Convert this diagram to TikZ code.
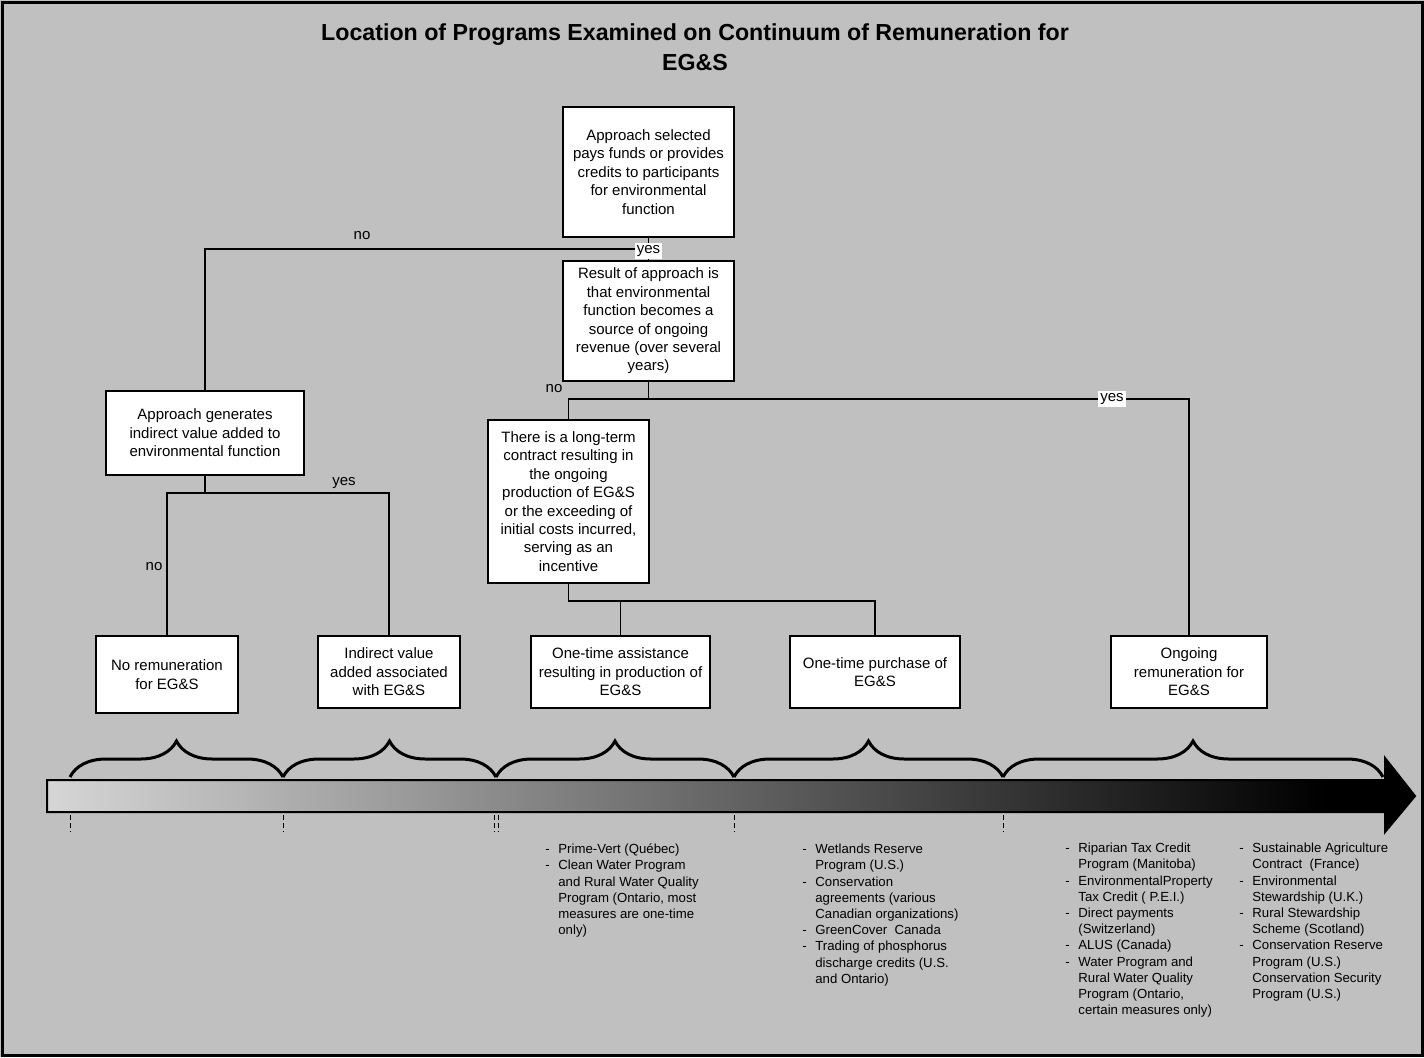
\documentclass[tikz,border=0pt]{standalone}
\usepackage{fontspec}
\setmainfont{Liberation Sans}
\usepackage{tikz}
\usetikzlibrary{decorations.pathreplacing}
\definecolor{panel}{RGB}{192,192,192}
\definecolor{barlight}{RGB}{214,214,214}
\definecolor{barmid}{RGB}{125,125,125}
\newcommand{\boxfont}{\fontsize{7.5}{9.2}\selectfont}
\newcommand{\listfont}{\fontsize{6.6}{8.1}\selectfont}
\newcommand{\EGS}{EG\&S}

\begin{document}
\begin{tikzpicture}[x=0.5pt,y=-0.5pt]
\tikzstyle{plain}=[draw, line width=0.75pt, fill=white, inner sep=0pt, align=center, font=\boxfont]
\tikzstyle{lbl}=[inner sep=1pt, font=\boxfont]
\tikzstyle{wire}=[line width=0.7pt]
\tikzstyle{proglist}=[anchor=north west, inner sep=0pt, font=\listfont]
\tikzstyle{scalemark}=[line width=0.5pt, dash pattern=on 2.5pt off 1.5pt]

\useasboundingbox (0,0) rectangle (1424,1057);
\fill[panel] (0,0) rectangle (1424,1057);
\draw[line width=1.5pt] (2,2) rectangle (1422,1055);

\draw node at (695,47) [font=\fontsize{11.6}{15}\selectfont\bfseries, align=center] (Title) {Location of Programs Examined on Continuum of Remuneration for\\ \EGS};

\draw node [plain, minimum width=85.5pt, minimum height=65pt] at (648.5,172) (Sel) {Approach selected\\ pays funds or provides\\ credits to participants\\ for environmental\\ function};
\draw node [plain, minimum width=85.5pt, minimum height=60pt] at (648.5,321) (Rev) {Result of approach is\\ that environmental\\ function becomes a\\ source of ongoing\\ revenue (over several\\ years)};
\draw node [plain, minimum width=99pt, minimum height=42pt] at (205,433) (Indirect) {Approach generates\\ indirect value added to\\ environmental function};
\draw node [plain, minimum width=71pt, minimum height=38.5pt] at (167,674.5) (NoRem) {No remuneration\\ for \EGS};
\draw node [plain, minimum width=71pt, minimum height=36pt] at (389,672) (IndVal) {Indirect value\\ added associated\\ with \EGS};
\draw node [plain, minimum width=80.5pt, minimum height=81.5pt] at (568.5,501.5) (Contract) {There is a long-term\\ contract resulting in\\ the ongoing\\ production of \EGS\\ or the exceeding of\\ initial costs incurred,\\ serving as an\\ incentive};
\draw node [plain, minimum width=89.5pt, minimum height=36pt] at (620.5,672) (OneAssist) {One-time assistance\\ resulting in production of\\ \EGS};
\draw node [plain, minimum width=85pt, minimum height=36pt] at (875,672) (OnePurch) {One-time purchase of\\ \EGS};
\draw node [plain, minimum width=78pt, minimum height=36pt] at (1189,672) (Ongoing) {Ongoing\\ remuneration for\\ \EGS};

\coordinate (SelJ) at (648.5,249);
\coordinate (IndJ) at (205,493);
\coordinate (RevJ) at (648.5,399);
\coordinate (ConJ) at (620.5,601);

\draw[wire] (Sel.south) -- (SelJ) -| (Indirect.north);
\draw[wire] (SelJ) -- (Rev.north);
\draw[wire] (Indirect.south) -- (IndJ);
\draw[wire] (NoRem.north) |- (IndJ) -| (IndVal.north);
\draw[wire] (Rev.south) -- (RevJ);
\draw[wire] (Contract.north) |- (RevJ) -| (Ongoing.north);
\draw[wire] (Contract.south) |- (ConJ) -| (OnePurch.north);
\draw[wire] (ConJ) -- (OneAssist.north);

\draw node [lbl] at (362,236) (NoA) {no};
\draw node [lbl, fill=white] at (648.5,251) (YesA) {yes};
\draw node [lbl] at (344,483) (YesB) {yes};
\draw node [lbl] at (154,567) (NoB) {no};
\draw node [lbl] at (554,389) (NoC) {no};
\draw node [lbl, fill=white] at (1112,399) (YesC) {yes};

\shade[left color=barlight, middle color=barmid, right color=black] (47,780) rectangle (1325,812);
\fill[black] (1325,780) rectangle (1385,812);
\fill[black] (1385,758) -- (1415,796) -- (1385,832) -- cycle;
\draw[line width=1pt] (1385,780) -- (47,780) -- (47,812) -- (1385,812) -- (1385,832) -- (1415,796) -- (1385,758) -- cycle;

\foreach \a/\b in {70/283,283/496,496/734,734/1003,1003/1383}
  \draw[line width=1.5pt, decorate, decoration={brace, amplitude=18pt}] (\a,777) -- (\b,777);

\foreach \x in {70,283,494,498,734,1003}
  \draw[scalemark] (\x,815) -- (\x,832);

\draw node [proglist] at (545,842) (ListA) {\begin{tabular}{@{}l@{\hspace{4.3pt}}l@{}}
- & Prime-Vert (Québec)\\
- & Clean Water Program\\
  & and Rural Water Quality\\
  & Program (Ontario, most\\
  & measures are one-time\\
  & only)
\end{tabular}};
\draw node [proglist] at (802,842) (ListB) {\begin{tabular}{@{}l@{\hspace{4.3pt}}l@{}}
- & Wetlands Reserve\\
  & Program (U.S.)\\
- & Conservation\\
  & agreements (various\\
  & Canadian organizations)\\
- & GreenCover\ \ Canada\\
- & Trading of phosphorus\\
  & discharge credits (U.S.\\
  & and Ontario)
\end{tabular}};
\draw node [proglist] at (1065,841) (ListC) {\begin{tabular}{@{}l@{\hspace{4.3pt}}l@{}}
- & Riparian Tax Credit\\
  & Program (Manitoba)\\
- & EnvironmentalProperty\\
  & Tax Credit ( P.E.I.)\\
- & Direct payments\\
  & (Switzerland)\\
- & ALUS (Canada)\\
- & Water Program and\\
  & Rural Water Quality\\
  & Program (Ontario,\\
  & certain measures only)
\end{tabular}};
\draw node [proglist] at (1239,841) (ListD) {\begin{tabular}{@{}l@{\hspace{4.3pt}}l@{}}
- & Sustainable Agriculture\\
  & Contract\ \ (France)\\
- & Environmental\\
  & Stewardship (U.K.)\\
- & Rural Stewardship\\
  & Scheme (Scotland)\\
- & Conservation Reserve\\
  & Program (U.S.)\\
  & Conservation Security\\
  & Program (U.S.)
\end{tabular}};
\end{tikzpicture}
\end{document}
